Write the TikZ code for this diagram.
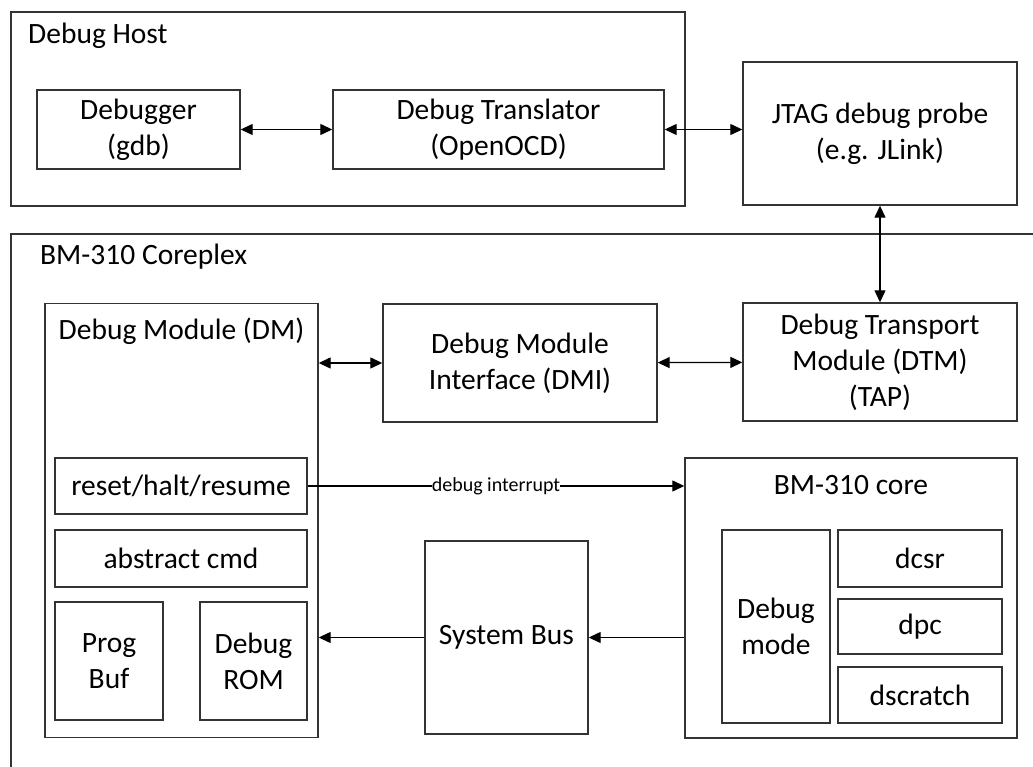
\documentclass[tikz,border=0pt]{standalone}
\usepackage{fontspec}
\setmainfont{Carlito}
\usepackage{tikz}
\usetikzlibrary{arrows.meta, positioning}

\newcommand{\boxfont}{\fontsize{29.5}{36}\selectfont}
\newcommand{\tagfont}{\fontsize{20}{24}\selectfont}

\begin{document}
\begin{tikzpicture}[
  x=1pt, y=1pt,
  >={Triangle[length=12pt,width=11pt]},
  box/.style={rectangle, draw=black!80, line width=1.4pt, inner sep=0pt, align=center, font=\boxfont},
  title/.style={inner sep=0pt, font=\boxfont},
  arr/.style={line width=1.3pt}
]
  \useasboundingbox (0,0) rectangle (1033,766);
  \clip (0,0) rectangle (1033,766);

  % outer frames
  \node[box, minimum width=674, minimum height=194] (host) at (348,657) {};
  \node[title, anchor=base west] (hosttitle) at (28,722) {Debug Host};
  \node[box, minimum width=1049, minimum height=566] (coreplex) at (535.5,249) {};
  \node[title, anchor=base west] (coreplextitle) at (40,501) {BM-310 Coreplex};

  % host side
  \node[box, minimum width=203, minimum height=79] (debugger) at (138.5,636.5) {Debugger\\(gdb)};
  \node[box, minimum width=331, minimum height=79] (translator) at (498.5,636.5) {Debug Translator\\(OpenOCD)};
  \node[box, minimum width=274, minimum height=143] (probe) at (880,632.5) {JTAG debug probe\\(e.g. JLink)};

  % debug module
  \node[box, minimum width=273, minimum height=434] (dm) at (181.5,245.5) {};
  \node[title, anchor=base] (dmtitle) at (181.5,426) {Debug Module (DM)};
  \node[box, minimum width=252, minimum height=56] (reset) at (181,280) {reset/halt/resume};
  \node[box, minimum width=252, minimum height=57] (abscmd) at (181,207.5) {abstract cmd};
  \node[box, minimum width=108, minimum height=118] (progbuf) at (109,105) {Prog\\Buf};
  \node[box, minimum width=107, minimum height=118] (dbgrom) at (253.5,105) {Debug\\ROM};

  \node[box, minimum width=274, minimum height=118] (dmi) at (520,403) {Debug Module\\Interface (DMI)};
  \node[box, minimum width=274, minimum height=118] (dtm) at (880,404) {Debug Transport\\Module (DTM)\\(TAP)};
  \node[box, minimum width=163, minimum height=193] (sysbus) at (506.5,128.5) {System Bus};

  % core
  \node[box, minimum width=332, minimum height=280] (core) at (851,168) {};
  \node[title, anchor=base] (coretitle) at (851,271) {BM-310 core};
  \node[box, minimum width=108, minimum height=193] (dbgmode) at (776,139.5) {Debug\\mode};
  \node[box, minimum width=164, minimum height=57] (dcsr) at (920,207.5) {dcsr};
  \node[box, minimum width=164, minimum height=55] (dpc) at (920,139.5) {dpc};
  \node[box, minimum width=164, minimum height=56] (dscratch) at (920,71) {dscratch};

  % connections
  \draw[arr, <->] (debugger) -- (translator);
  \draw[arr, <->] (translator.east) -- (translator.east -| probe.west);
  \draw[arr, <->] (probe) -- (dtm);
  \draw[arr, <->] (dmi.west -| dm.east) -- (dmi.west);
  \draw[arr, <->] (dmi) -- (dtm);
  \draw[arr, ->] (reset.east) -- node[fill=white, inner sep=0pt, font=\tagfont] {debug interrupt} (reset.east -| core.west);
  \draw[arr, ->] (sysbus.east -| core.west) -- (sysbus.east);
  \draw[arr, ->] (sysbus.west) -- (sysbus.west -| dm.east);
\end{tikzpicture}
\end{document}
